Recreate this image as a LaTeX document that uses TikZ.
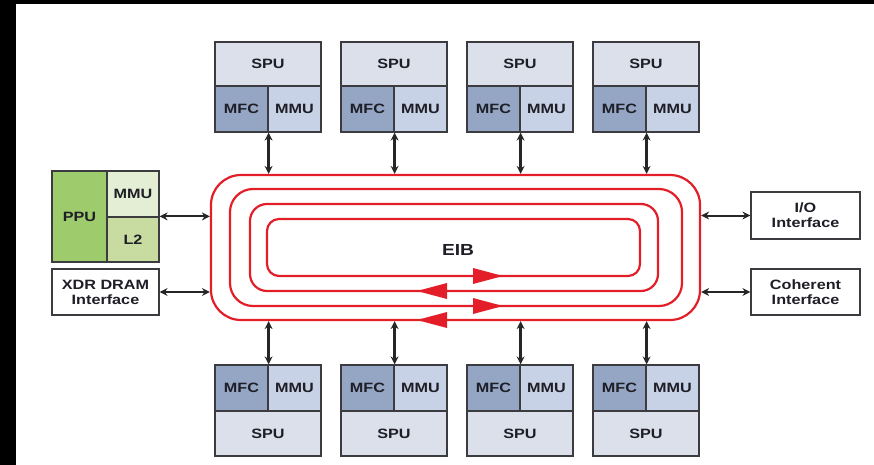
\documentclass[tikz,border=0pt]{standalone}
\usepackage{fontspec}
\setmainfont{Liberation Sans}[FakeStretch=1.2]
\usetikzlibrary{arrows.meta}
\definecolor{spuc}{RGB}{220,224,235}
\definecolor{mfcc}{RGB}{148,166,196}
\definecolor{mmuc}{RGB}{200,210,230}
\definecolor{ppuc}{RGB}{158,203,108}
\definecolor{pmmuc}{RGB}{228,238,212}
\definecolor{l2c}{RGB}{200,219,160}
\definecolor{edge}{RGB}{60,60,64}
\definecolor{txt}{RGB}{30,30,38}
\definecolor{ringc}{RGB}{228,30,40}
\begin{document}
\begin{tikzpicture}[x=1pt,y=-1pt,
  blk/.style={draw=edge, line width=1.2pt, inner sep=0pt, text=txt, align=center,
    font=\bfseries\fontsize{13.5}{15}\selectfont},
  ring/.style={draw=ringc, line width=2.2pt, inner sep=0pt},
  conn/.style={draw=black!85, line width=2.6pt, {Stealth[length=8pt,width=8pt]}-{Stealth[length=8pt,width=8pt]}},
  rtip/.style={fill=ringc}]
\useasboundingbox (0,0) rectangle (874,465);
\fill[black] (0,0) rectangle (16,465);
\fill[black] (0,0) rectangle (874,4);

% rings
\node[ring, rounded corners=30pt, minimum width=489pt, minimum height=145pt] (r1) at (455.5,247.5) {};
\node[ring, rounded corners=23pt, minimum width=452pt, minimum height=117pt] (r2) at (456,247.5) {};
\node[ring, rounded corners=17pt, minimum width=408pt, minimum height=87pt] (r3) at (454,247.5) {};
\node[ring, rounded corners=12pt, minimum width=373pt, minimum height=57pt] (r4) at (453.5,247.5) {};
\node[font=\bfseries\fontsize{16}{18}\selectfont, text=txt] (eib) at (458,250) {EIB};

% ring direction arrows
\fill[rtip] (473,268) -- (503,276) -- (473,284) -- cycle;
\fill[rtip] (447,283) -- (417,291) -- (447,299) -- cycle;
\fill[rtip] (473,298) -- (503,306) -- (473,314) -- cycle;
\fill[rtip] (447,312) -- (417,320) -- (447,328) -- cycle;

% top SPEs
\foreach \i/\x in {1/215,2/341,3/467,4/593} {
  \node[blk, fill=spuc, minimum width=106pt, minimum height=44pt] (ts\i) at (\x+53,64) {SPU};
  \node[blk, fill=mfcc, minimum width=53pt, minimum height=46pt] (tf\i) at (\x+26.5,109) {MFC};
  \node[blk, fill=mmuc, minimum width=53pt, minimum height=46pt] (tm\i) at (\x+79.5,109) {MMU};
  \draw[conn] (tf\i.south east) -- (tf\i.south east |- r1.north);
}
% bottom SPEs
\foreach \i/\x in {1/215,2/341,3/467,4/593} {
  \node[blk, fill=mfcc, minimum width=53pt, minimum height=46pt] (bf\i) at (\x+26.5,388) {MFC};
  \node[blk, fill=mmuc, minimum width=53pt, minimum height=46pt] (bm\i) at (\x+79.5,388) {MMU};
  \node[blk, fill=spuc, minimum width=106pt, minimum height=45pt] (bs\i) at (\x+53,433.5) {SPU};
  \draw[conn] (bf\i.north east) -- (bf\i.north east |- r1.south);
}

% PPE
\node[blk, fill=ppuc, minimum width=55pt, minimum height=91pt] (ppu) at (79.5,216.5) {PPU};
\node[blk, fill=pmmuc, minimum width=52pt, minimum height=46pt] (pmmu) at (133,194) {MMU};
\node[blk, fill=l2c, minimum width=52pt, minimum height=45pt] (l2) at (133,239.5) {L2};
\node[blk, fill=white, minimum width=107pt, minimum height=46pt] (xdr) at (105.5,292) {XDR DRAM\\Interface};
\draw[conn, line width=2pt] (l2.north east) -- (l2.north east -| r1.west);
\draw[conn, line width=2pt] (xdr.east) -- (xdr.east -| r1.west);

% right interfaces
\node[blk, fill=white, minimum width=109pt, minimum height=47pt] (io) at (805.5,215.5) {I/O\\Interface};
\node[blk, fill=white, minimum width=109pt, minimum height=46pt] (coh) at (805.5,292) {Coherent\\Interface};
\draw[conn, line width=2pt] (io.west) -- (io.west -| r1.east);
\draw[conn, line width=2pt] (coh.west) -- (coh.west -| r1.east);
\end{tikzpicture}
\end{document}
